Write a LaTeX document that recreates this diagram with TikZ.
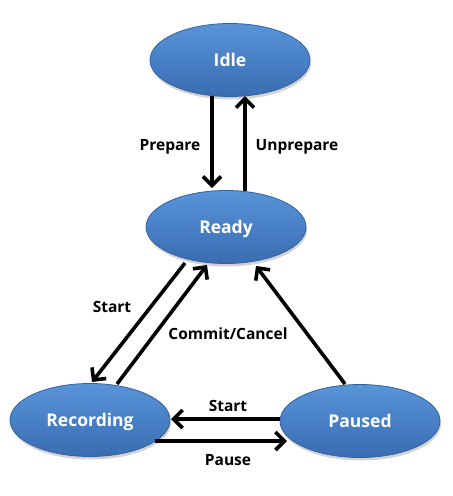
\documentclass[tikz,border=0pt]{standalone}
\usepackage{fontspec}
\setmainfont{Open Sans}
\usetikzlibrary{arrows.meta,shadows,shapes.geometric}
\definecolor{elltop}{HTML}{5A94D8}
\definecolor{ellmid}{HTML}{4880C6}
\definecolor{ellbot}{HTML}{3A6CB0}
\definecolor{elledge}{HTML}{3262A2}
\tikzset{
  state/.style={ellipse, minimum width=160pt, minimum height=73pt, inner sep=0pt,
    top color=elltop, bottom color=ellbot, middle color=ellmid, draw=elledge, line width=0.8pt,
    drop shadow={opacity=0.35, shadow xshift=1pt, shadow yshift=-3pt},
    text height=12.5pt, text depth=0pt,
    text=white, font=\bfseries\fontsize{17.5}{20}\selectfont},
  trans/.style={-{Straight Barb[length=9pt,width=18pt,line width=3.6pt]}, line width=3.6pt, line join=round},
  lbl/.style={font=\bfseries\fontsize{15.5}{18}\selectfont, text=black, inner sep=0pt,
    text height=11pt, text depth=0pt}
}
\begin{document}
\begin{tikzpicture}[x=1pt,y=-1pt]
\useasboundingbox (0,0) rectangle (453,496);
\node[state] (idle) at (230,60) {Idle};
\node[state] (ready) at (226,227) {Ready};
\node[state] (rec) at (90,420) {Recording};
\node[state] (paused) at (360,421) {Paused};

\coordinate (p1) at (212,96);
\coordinate (p2) at (212,188);
\coordinate (u1) at (245,191);
\coordinate (u2) at (245,96);
\draw[trans] (p1) -- (p2);
\draw[trans] (u1) -- (u2);

\coordinate (s1) at (185,263);
\coordinate (s2) at (92,382);
\coordinate (c1) at (117,384);
\coordinate (c2) at (207,265);
\coordinate (r1) at (345,384);
\coordinate (r2) at (256,266);
\draw[trans] (s1) -- (s2);
\draw[trans] (c1) -- (c2);
\draw[trans] (r1) -- (r2);

\coordinate (a1) at (280,419);
\coordinate (a2) at (171,419);
\coordinate (b1) at (155,441);
\coordinate (b2) at (287,441);
\draw[trans] (a1) -- (a2);
\draw[trans] (b1) -- (b2);

\node[lbl] (lprep) at (170,145) {Prepare};
\node[lbl] (lunprep) at (297,145) {Unprepare};
\node[lbl] (lstart1) at (112,307) {Start};
\node[lbl] (lcommit) at (228,334) {Commit/Cancel};
\node[lbl] (lstart2) at (228,406) {Start};
\node[lbl] (lpause) at (228,460) {Pause};
\end{tikzpicture}
\end{document}
